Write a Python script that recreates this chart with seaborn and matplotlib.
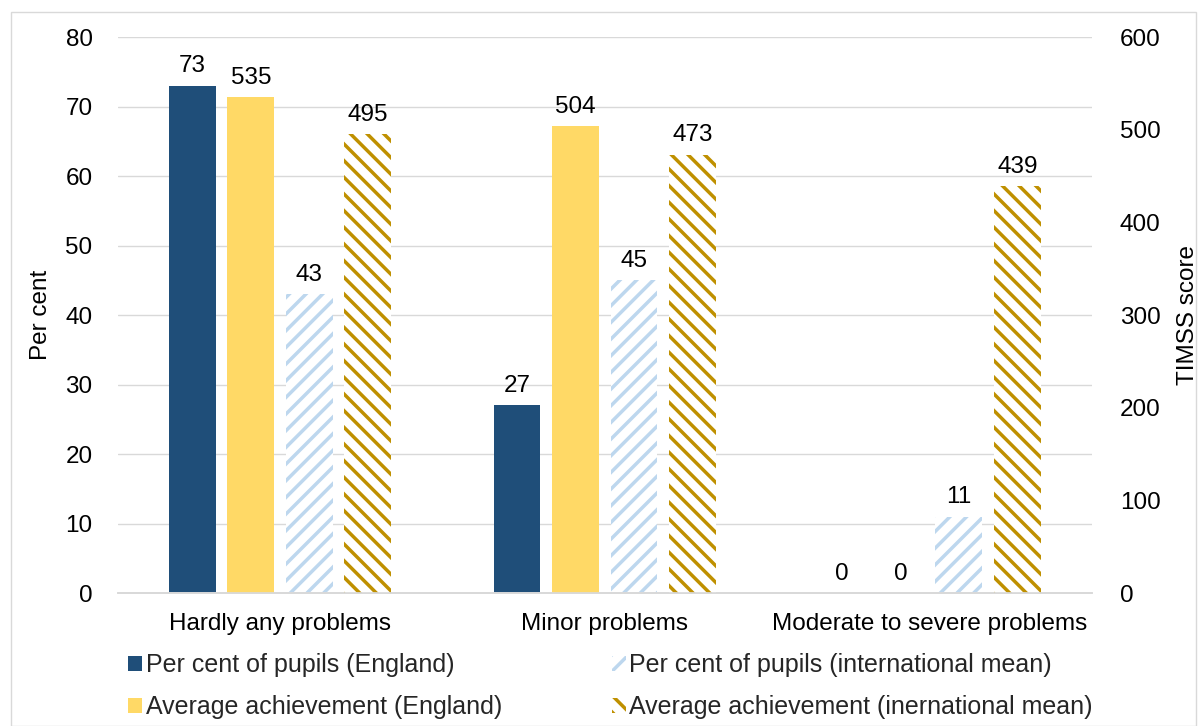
import matplotlib
matplotlib.use("Agg")
import matplotlib.pyplot as plt
import seaborn as sns
import pandas as pd
import numpy as np
from matplotlib.patches import Patch, Rectangle

# data
categories = ["Hardly any problems", "Minor problems", "Moderate to severe problems"]
series = ["Per cent of pupils (England)",
          "Average achievement (England)",
          "Per cent of pupils (international mean)",
          "Average achievement (inernational mean)"]
pct_england = [73, 27, 0]
ach_england = [535, 504, 0]
pct_intl = [43, 45, 11]
ach_intl = [495, 473, 439]

colors = {series[0]: "#1F4E79", series[1]: "#FFD966",
          series[2]: "#BDD7EE", series[3]: "#BF9000"}
hatches = {series[0]: None, series[1]: None, series[2]: "//", series[3]: "\\\\"}

# long table, percent series go on the left axis, scores on the right one
rows = []
for i, cat in enumerate(categories):
    for s, vals, side in [(series[0], pct_england, "left"), (series[1], ach_england, "right"),
                          (series[2], pct_intl, "left"), (series[3], ach_intl, "right")]:
        rows.append({"category": cat, "series": s, "value": vals[i], "side": side})
df = pd.DataFrame(rows)
df_left = df.copy()
df_left.loc[df_left["side"] != "left", "value"] = float("nan")
df_right = df.copy()
df_right.loc[df_right["side"] != "right", "value"] = float("nan")

sns.set_theme(style="white")
plt.rcParams["font.family"] = ["Liberation Sans", "DejaVu Sans"]
plt.rcParams["hatch.linewidth"] = 2.5
fs = 17.5

fig = plt.figure(figsize=(12, 7.26), dpi=100)
ax = fig.add_axes([0.098, 0.183, 0.812, 0.766])
ax2 = ax.twinx()

sns.barplot(data=df_left, x="category", y="value", hue="series", hue_order=series,
            order=categories, palette=colors, saturation=1, width=0.72, gap=0.2,
            errorbar=None, legend=False, ax=ax)
sns.barplot(data=df_right, x="category", y="value", hue="series", hue_order=series,
            order=categories, palette=colors, saturation=1, width=0.72, gap=0.2,
            errorbar=None, legend=False, ax=ax2)

# style bars: solid ones have no edge, hatched ones are white with coloured stripes
for axis, names in [(ax, [series[0], series[2]]), (ax2, [series[1], series[3]])]:
    conts = [c for c in axis.containers
             if len(c) and not np.isnan(np.asarray(c.datavalues, dtype=float)).all()]
    for cont, name in zip(conts, names):
        for bar in cont:
            if hatches[name]:
                bar.set_facecolor("white")
                bar.set_edgecolor(colors[name])
                bar.set_hatch(hatches[name])
            else:
                bar.set_facecolor(colors[name])
            bar.set_linewidth(0)
        axis.bar_label(cont, fmt="{:.0f}", padding=6, fontsize=fs, color="black")

ax.set_ylim(0, 80)
ax.set_yticks(range(0, 81, 10))
ax2.set_ylim(0, 600)
ax2.set_yticks(range(0, 601, 100))
ax.set_xlim(-0.5, 2.5)
ax.yaxis.grid(True, color="#d9d9d9", linewidth=1)
ax.set_axisbelow(True)

for a in (ax, ax2):
    for side in ("top", "left", "right"):
        a.spines[side].set_visible(False)
    a.spines["bottom"].set_color("#d9d9d9")
    a.tick_params(length=0, labelsize=fs, colors="black")
    a.set_xlabel("")

ax.tick_params(axis="x", pad=14)
ax.tick_params(axis="y", pad=18)
ax2.tick_params(axis="y", pad=20)
ax.set_ylabel("Per cent", fontsize=fs, color="black", labelpad=10)
ax2.set_ylabel("TIMSS score", fontsize=fs, color="black", rotation=90, labelpad=12)

handles = [Patch(facecolor="white" if hatches[s] else colors[s],
                 edgecolor=colors[s], hatch=hatches[s], linewidth=0) for s in series]
fig.legend(handles, series, ncol=2, loc="center left", bbox_to_anchor=(0.088, 0.055),
           frameon=False, fontsize=18, handlelength=0.55, handleheight=0.55,
           handletextpad=0.15, columnspacing=4.4, labelspacing=0.72)

fig.patches.append(Rectangle((11 / 1200, 0), 1185 / 1200, 1 - 12 / 726, transform=fig.transFigure,
                             fill=False, edgecolor="#d9d9d9", linewidth=1))

fig.savefig("out.png", dpi=100)
